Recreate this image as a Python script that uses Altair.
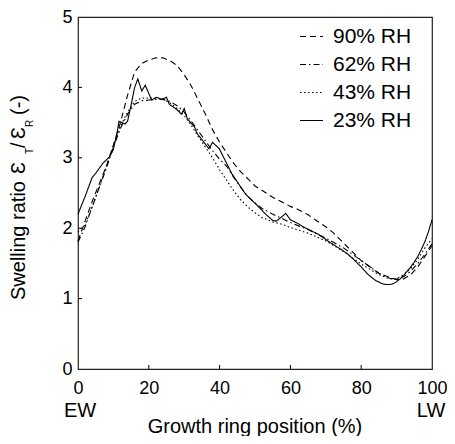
import altair as alt
import pandas as pd

# ---------------- data ----------------
series_names = ["90% RH", "62% RH", "43% RH", "23% RH"]

pos_90 = [0, 2, 4, 6, 8, 10, 12, 14, 16, 18, 20, 22, 24, 26, 28, 30, 32, 34, 36, 38,
          40, 42, 44, 46, 48, 50, 55, 60, 62, 65, 67, 70, 72, 76, 80, 85, 88, 90, 92,
          94, 96, 98, 100]
val_90 = [1.82, 2.10, 2.38, 2.63, 2.88, 3.18, 3.50, 3.89, 4.22, 4.34, 4.39, 4.42, 4.42,
          4.38, 4.31, 4.18, 4.02, 3.82, 3.62, 3.40, 3.22, 3.07, 2.92, 2.80, 2.70, 2.60,
          2.44, 2.31, 2.27, 2.19, 2.12, 2.02, 1.94, 1.74, 1.54, 1.36, 1.30, 1.27, 1.28,
          1.34, 1.45, 1.60, 1.75]

pos_62 = [0, 2, 4, 6, 8, 10, 12, 14, 16, 18, 20, 22, 24, 26, 28, 30, 32, 34, 36, 38,
          40, 42, 44, 46, 48, 50, 52, 55, 60, 65, 70, 75, 80, 85, 88, 90, 92, 94, 96,
          98, 100]
val_62 = [1.80, 2.02, 2.30, 2.58, 2.85, 3.15, 3.42, 3.62, 3.76, 3.81, 3.82, 3.83, 3.83,
          3.80, 3.74, 3.65, 3.52, 3.38, 3.24, 3.10, 2.98, 2.88, 2.72, 2.58, 2.45, 2.36,
          2.28, 2.20, 2.08, 1.98, 1.86, 1.72, 1.54, 1.36, 1.29, 1.28, 1.31, 1.39, 1.50,
          1.63, 1.78]

pos_43 = [0, 2, 4, 6, 8, 10, 12, 14, 16, 18, 20, 22, 24, 26, 28, 30, 32, 34, 36, 38,
          40, 42, 44, 46, 48, 50, 52, 55, 58, 60, 65, 70, 75, 80, 85, 88, 90, 92, 94,
          96, 98, 100]
val_43 = [1.95, 2.05, 2.30, 2.58, 2.88, 3.18, 3.45, 3.65, 3.80, 3.85, 3.85, 3.85, 3.83,
          3.78, 3.70, 3.60, 3.46, 3.30, 3.15, 3.00, 2.83, 2.68, 2.53, 2.40, 2.30, 2.22,
          2.15, 2.09, 2.05, 2.01, 1.93, 1.82, 1.67, 1.49, 1.34, 1.28, 1.28, 1.34, 1.43,
          1.56, 1.72, 1.85]

pos_23 = [0, 2, 4, 5, 7, 9, 10, 11, 11.6, 13.3, 14, 15, 16, 16.9, 18, 19, 20.8, 22.2,
          23.6, 25, 25.8, 27.8, 29.2, 30, 30.9, 32.9, 33.7, 35, 36.2, 37, 38, 39.9, 41.8,
          43.5, 45.5, 47.4, 50.3, 53, 55, 56, 57, 58.7, 60, 62, 64, 66, 68, 70, 72, 74,
          76, 78, 80, 82, 84, 86, 87, 88, 89, 90, 91, 92, 93, 94, 95, 96, 97, 98, 99, 100]
val_23 = [2.20, 2.45, 2.72, 2.78, 2.92, 3.02, 3.12, 3.35, 3.52, 3.48, 3.52, 3.75, 4.00,
          4.12, 3.95, 4.03, 3.82, 3.86, 3.83, 3.86, 3.76, 3.69, 3.62, 3.70, 3.55, 3.44,
          3.34, 3.26, 3.18, 3.13, 3.22, 3.13, 2.94, 2.77, 2.62, 2.48, 2.34, 2.20, 2.11,
          2.10, 2.14, 2.21, 2.12, 2.07, 2.01, 1.96, 1.91, 1.84, 1.77, 1.71, 1.64, 1.55,
          1.45, 1.34, 1.26, 1.21, 1.20, 1.20, 1.21, 1.24, 1.28, 1.33, 1.39, 1.45, 1.52,
          1.60, 1.70, 1.81, 1.95, 2.12]

dash_styles = [[6, 4], [6, 3, 1.5, 3], [1.5, 2.5], [1, 0]]

x_ticks = [0, 20, 40, 60, 80, 100]
y_ticks = [0, 1, 2, 3, 4, 5]
x_inner_ticks = [20, 40, 60, 80]
y_inner_ticks = [1, 2, 3, 4]

x_title = "Growth ring position (%)"
x_left_label = "EW"
x_right_label = "LW"

# ---------------- build table ----------------
rows = []
for name, xs, ys in zip(series_names, [pos_90, pos_62, pos_43, pos_23],
                        [val_90, val_62, val_43, val_23]):
    for x, y in zip(xs, ys):
        rows.append({"series": name, "pos": x, "ratio": y})
df = pd.DataFrame(rows)

FONT = "Liberation Sans"
W, H = 354, 352
TOP = 9  # plot top offset inside svg

xscale = alt.Scale(domain=[0, 100], nice=False, zero=False)
yscale = alt.Scale(domain=[0, 5], nice=False, zero=False)

lines = alt.Chart(df).mark_line(color="black", strokeWidth=1.1).encode(
    x=alt.X("pos:Q", scale=xscale,
            axis=alt.Axis(values=x_ticks, format="d", title=None, grid=False,
                          domain=False, ticks=False, tickSize=0, labelFont=FONT,
                          labelFontSize=18, labelColor="black", labelPadding=10,
                          labelFlush=False, labelOverlap=False)),
    y=alt.Y("ratio:Q", scale=yscale,
            axis=alt.Axis(values=y_ticks, format="d", title=None, grid=False,
                          domain=False, ticks=False, tickSize=0, labelFont=FONT,
                          labelFontSize=18, labelColor="black", labelPadding=6,
                          labelFlush=False, labelOverlap=False)),
    strokeDash=alt.StrokeDash(
        "series:N",
        scale=alt.Scale(domain=series_names, range=dash_styles),
        legend=alt.Legend(title=None, orient="none", legendX=221, legendY=7,
                          symbolType="stroke", symbolSize=529, symbolStrokeWidth=1.1,
                          symbolStrokeColor="black", labelFont=FONT, labelFontSize=21,
                          labelColor="black", labelOffset=9, rowPadding=5, padding=0),
    ),
    order="pos:Q",
)

xt = alt.Chart(pd.DataFrame({"v": x_inner_ticks})).mark_rule(
    color="black", strokeWidth=1).encode(
    x=alt.X("v:Q", scale=xscale), y=alt.value(H), y2=alt.value(H - 4))
yt = alt.Chart(pd.DataFrame({"v": y_inner_ticks})).mark_rule(
    color="black", strokeWidth=1).encode(
    y=alt.Y("v:Q", scale=yscale), x=alt.value(0), x2=alt.value(4))

one = pd.DataFrame({"a": [0]})


def txt(text, x, y, size=20, angle=0, align="center", baseline="alphabetic"):
    return alt.Chart(one).mark_text(
        text=text, font=FONT, fontSize=size, color="black", angle=angle,
        align=align, baseline=baseline).encode(x=alt.value(x), y=alt.value(y))


texts = [
    txt(x_title, W / 2, 416),
    txt(x_left_label, 2, 400),
    txt(x_right_label, W - 1, 400),
    # y title pieces (rotated)
    txt("Swelling ratio ", -53, 283, angle=270, align="left"),
    txt("Ɛ", -53, 157, angle=270, align="left"),
    txt("T", -45, 137, size=10, angle=270, align="left"),
    txt("/", -53, 131, angle=270, align="left"),
    txt("Ɛ", -53, 122, angle=270, align="left"),
    txt("R", -45, 110, size=10, angle=270, align="left"),
    txt("(-)", -53, 98, angle=270, align="left"),
]

chart = alt.layer(lines, xt, yt, *texts).properties(
    width=W, height=H,
    autosize=alt.AutoSizeParams(type="none"),
    padding={"left": 70, "top": TOP, "right": 15, "bottom": 67},
).configure_view(stroke="#222", strokeWidth=1.2)

chart.save("out.html", embed_options={"renderer": "svg", "actions": False})
